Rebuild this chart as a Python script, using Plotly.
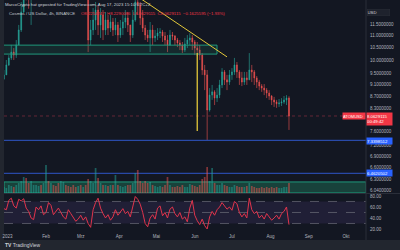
import numpy as np
import pandas as pd
import plotly.graph_objects as go

# ---------------- data ----------------
start_date = "2022-12-29"          # first candle, 2-day steps
first_open = 9.30
closes = [9.45, 9.82, 10.09, 10.32, 10.20, 10.61, 11.24, 12.05, 13.30, 13.10,
          12.70, 12.90, 13.40, 13.90, 14.20, 13.60, 13.80, 14.40, 14.30, 14.60,
          13.80, 13.40, 13.00, 13.90, 14.60, 14.30, 13.90, 13.50, 13.20, 13.10,
          13.40, 12.90, 13.05, 12.90, 10.81, 11.24, 11.68, 12.14, 11.46, 11.91,
          11.24, 11.68, 11.32, 11.59, 11.24, 11.46, 11.02, 11.32, 11.59, 11.77,
          11.46, 11.02, 11.68, 12.52, 12.38, 11.77, 11.32, 11.02, 10.90, 11.24,
          10.90, 10.98, 11.11, 11.15, 10.98, 10.81, 10.60, 11.02, 10.98, 10.81,
          10.69, 10.60, 10.40, 10.65, 10.81, 10.90, 10.73, 10.48, 10.40, 10.20,
          9.63, 9.45, 8.25, 8.74, 8.85, 8.64, 8.74, 9.09, 9.56, 9.27,
          9.19, 9.45, 9.56, 9.82, 9.56, 9.34, 9.19, 9.34, 9.27, 9.63,
          9.56, 9.34, 9.19, 9.05, 8.98, 8.91, 8.81, 8.71, 8.58, 8.51,
          8.45, 8.48, 8.51, 8.58, 8.64, 8.06]
highs = [9.63, 10.01, 10.20, 10.61, 10.48, 10.81, 11.46, 12.52, 13.90, 13.60,
         13.30, 13.40, 13.80, 14.30, 14.60, 14.30, 14.20, 14.80, 14.80, 15.00,
         14.70, 13.90, 13.50, 14.10, 15.00, 14.90, 14.50, 14.10, 13.70, 13.50,
         13.70, 13.40, 13.20, 13.30, 13.00, 11.68, 12.23, 12.52, 12.38, 12.23,
         12.14, 12.05, 11.91, 11.91, 11.77, 11.77, 11.59, 11.68, 11.91, 12.14,
         12.05, 11.46, 12.14, 13.22, 13.01, 12.52, 12.14, 11.46, 11.24, 11.59,
         11.46, 11.24, 11.32, 11.32, 11.24, 11.15, 11.02, 11.24, 11.15, 11.02,
         10.90, 10.81, 10.73, 10.90, 11.02, 11.10, 11.02, 10.81, 10.73, 10.60,
         10.28, 9.82, 9.63, 8.98, 9.09, 8.91, 8.98, 9.27, 9.70, 9.63,
         9.45, 9.63, 9.70, 10.09, 9.93, 9.63, 9.56, 9.56, 9.56, 10.28,
         9.82, 9.63, 9.41, 9.27, 9.12, 9.12, 8.98, 8.91, 8.74, 8.68,
         8.58, 8.61, 8.64, 8.71, 8.74, 8.70]
lows = [9.27, 9.45, 9.78, 10.01, 10.01, 10.09, 10.61, 11.15, 12.00, 12.60,
        12.20, 11.46, 12.80, 13.20, 13.70, 13.30, 13.30, 13.80, 14.00, 14.10,
        13.50, 13.10, 12.80, 12.90, 13.90, 14.00, 13.60, 13.20, 12.90, 12.80,
        12.90, 12.70, 12.80, 12.70, 10.32, 10.60, 11.02, 11.24, 11.02, 10.90,
        10.81, 11.02, 11.02, 11.15, 10.98, 11.02, 10.73, 10.90, 11.02, 11.32,
        11.15, 10.73, 10.90, 11.60, 11.91, 11.46, 11.15, 10.81, 10.73, 10.32,
        10.60, 10.73, 10.81, 10.90, 10.73, 10.60, 10.32, 10.60, 10.81, 10.60,
        10.52, 10.40, 10.28, 10.32, 10.48, 10.60, 10.40, 10.20, 10.16, 10.01,
        9.45, 8.91, 7.35, 8.20, 8.58, 8.41, 8.51, 8.64, 8.98, 9.09,
        8.91, 9.09, 9.27, 9.45, 9.34, 9.09, 9.05, 9.09, 9.09, 9.27,
        9.19, 9.09, 8.98, 8.91, 8.85, 8.74, 8.64, 8.58, 8.41, 8.35,
        8.32, 8.35, 8.38, 8.45, 8.41, 7.64]
volume_m = [3, 2.5, 4, 3.5, 3, 4, 5, 6, 8, 7.5,
            5, 6, 4, 4, 3.5, 4, 5, 14, 6, 5,
            4, 3.5, 5, 6, 5.5, 4, 3.5, 3, 4, 3,
            3.5, 4, 3, 4, 7, 6, 5, 12.5, 7.5, 5,
            4, 4, 3.5, 4, 4, 9, 4, 3.5, 3, 3.5,
            4, 4, 5, 10, 11.5, 6, 5, 6, 5, 5.5,
            4, 3.5, 3, 3.5, 3, 4, 8, 4, 3, 3,
            3.5, 3, 4, 3, 3, 4.5, 4, 3.5, 3, 4,
            7, 8, 13, 6, 12.5, 5, 4, 4, 5, 4,
            3.5, 3, 3, 4, 3.5, 3, 3, 3, 3.5, 5,
            3.5, 3, 2.5, 2.5, 3, 2.5, 3, 2.5, 3, 2.5,
            3, 2.5, 2.5, 3, 3, 5]
rsi = [57, 55, 72, 76, 62, 58, 74, 71, 75, 58,
       52, 40, 37, 60, 55, 62, 46, 50, 68, 63,
       46, 52, 58, 50, 42, 38, 55, 48, 40, 34,
       38, 45, 36, 42, 30, 23, 55, 68, 76, 58,
       48, 40, 46, 36, 42, 55, 45, 50, 57, 48,
       52, 42, 60, 79, 74, 65, 50, 30, 24, 40,
       46, 38, 58, 62, 44, 50, 40, 56, 60, 48,
       42, 50, 38, 42, 33, 58, 72, 45, 35, 28,
       38, 26, 20, 42, 52, 45, 55, 60, 68, 63,
       56, 60, 54, 70, 66, 50, 42, 48, 40, 76,
       55, 48, 52, 40, 45, 38, 48, 42, 36, 40,
       45, 38, 48, 52, 60, 28]

price_ticks = [11.5, 11.0, 10.5, 10.0, 9.5, 9.1, 8.7, 8.3, 7.6, 7.2, 6.9, 6.6, 6.3, 6.04]
price_tick_labels = ["11.5000000", "11.0000000", "10.5000000", "10.0000000", "9.5000000",
                     "9.1000000", "8.7000000", "8.3000000", "7.6000000",
                     "7.2000000", "6.9000000", "6.6000000", "6.3000000", "6.0400000"]
rsi_ticks = [80, 60, 40, 20]
rsi_tick_labels = ["80.00", "60.00", "40.00", "20.00"]
month_ticks = ["2023-01-01", "2023-02-01", "2023-03-01", "2023-04-01", "2023-05-01",
               "2023-06-01", "2023-07-01", "2023-08-01", "2023-09-01", "2023-10-01"]
month_labels = ["2023", "Feb", "Mrz", "Apr", "Mai", "Jun", "Jul", "Aug", "Sep", "Okt"]

last_price = 8.0629115
blue_levels = [7.3398512, 6.4620502]
zone_top = [10.24, 10.60]
zone_bottom = [5.99, 6.25]
trend_dates = ["2023-04-18", "2023-06-27"]
trend_prices = [12.70, 10.13]
vline_date = "2023-06-03"
vline_prices = [10.28, 7.61]

# ---------------- derived ----------------
dates = pd.date_range(start_date, periods=len(closes), freq="2D")
opens = [first_open] + closes[:-1]
UP, DOWN = "#26a69a", "#ef5350"
vol_colors = ["rgba(38,166,154,0.5)" if c >= o else "rgba(239,83,80,0.5)"
              for o, c in zip(opens, closes)]

# ---------------- geometry ----------------
W, H = 400, 250
ML, MR, MT, MB = 4, 34, 0, 18
PW, PH = W - ML - MR, H - MT - MB
def fx(px): return (px - ML) / PW
def fy(py): return (PH + MT - py) / PH

jan1 = pd.Timestamp("2023-01-01")
PX_PER_DAY, X_JAN1 = 1.2397, 7.57
def px_date(px): return jan1 + pd.Timedelta(days=(px - X_JAN1) / PX_PER_DAY)
x_lo, x_hi = px_date(ML), px_date(W - MR)

BG = "#131722"
FRAME = "#22262f"
TXT = "#b2b5be"
FONT = "Liberation Sans, Arial, sans-serif"
L = np.log10

fig = go.Figure()

def poly(xs, ys, fill, line, yaxis="y", width=1):
    fig.add_trace(go.Scatter(x=xs, y=ys, mode="lines", fill="toself", fillcolor=fill,
                             line=dict(color=line, width=width), xaxis="x", yaxis=yaxis,
                             hoverinfo="skip"))

# zones (drawn under the candles)
za, zb = px_date(3), px_date(217)
poly([za, zb, zb, za, za], [zone_top[0], zone_top[0], zone_top[1], zone_top[1], zone_top[0]],
     "rgba(38,166,120,0.13)", "#1f9a7c")
poly([x_lo, x_hi, x_hi, x_lo, x_lo],
     [zone_bottom[0], zone_bottom[0], zone_bottom[1], zone_bottom[1], zone_bottom[0]],
     "rgba(38,166,120,0.30)", "#1f9a7c")
# RSI band
poly([x_lo, x_hi, x_hi, x_lo, x_lo], [30, 30, 70, 70, 30],
     "rgba(126,87,194,0.13)", "rgba(0,0,0,0)", yaxis="y2", width=0)

# horizontal levels
for lv in blue_levels:
    fig.add_trace(go.Scatter(x=[x_lo, x_hi], y=[lv, lv], mode="lines",
                             line=dict(color="#2f56c8", width=1), hoverinfo="skip"))
fig.add_trace(go.Scatter(x=[x_lo, x_hi], y=[last_price, last_price], mode="lines",
                         line=dict(color="rgba(200,60,80,0.45)", width=1, dash="dot"),
                         hoverinfo="skip"))

fig.add_trace(go.Candlestick(
    x=dates, open=opens, high=highs, low=lows, close=closes,
    increasing=dict(line=dict(color=UP, width=0.6), fillcolor=UP),
    decreasing=dict(line=dict(color=DOWN, width=0.6), fillcolor=DOWN),
    whiskerwidth=0, xaxis="x", yaxis="y", hoverinfo="skip"))

# yellow drawings
fig.add_trace(go.Scatter(x=trend_dates, y=trend_prices, mode="lines",
                         line=dict(color="#e2c73a", width=1), hoverinfo="skip"))
fig.add_trace(go.Scatter(x=[vline_date, vline_date], y=vline_prices, mode="lines",
                         line=dict(color="#e2c73a", width=1.3), hoverinfo="skip"))

# RSI levels and line
for lv in (70, 50, 30):
    fig.add_trace(go.Scatter(x=[x_lo, x_hi], y=[lv, lv], mode="lines", yaxis="y2",
                             line=dict(color="rgba(120,123,134,0.6)", width=1, dash="dash"),
                             hoverinfo="skip"))
fig.add_trace(go.Scatter(x=dates, y=rsi, mode="lines", line=dict(color="#e0344c", width=1),
                         xaxis="x", yaxis="y2", hoverinfo="skip"))

# volume (own overlapping axis at the bottom of the price pane)
fig.add_trace(go.Bar(x=dates, y=volume_m, marker=dict(color=vol_colors, line=dict(width=0)),
                     xaxis="x", yaxis="y3", hoverinfo="skip"))

shapes = []
shapes.append(dict(type="rect", xref="paper", yref="paper", x0=fx(0), x1=0, y0=fy(H), y1=fy(0),
                   fillcolor=FRAME, line=dict(width=0), layer="below"))
shapes.append(dict(type="rect", xref="paper", yref="paper", x0=fx(0), x1=fx(W), y0=fy(H), y1=fy(240),
                   fillcolor=FRAME, line=dict(width=0), layer="below"))
shapes.append(dict(type="line", xref="paper", yref="paper", x0=0, x1=fx(W), y0=fy(193.5), y1=fy(193.5),
                   line=dict(color="#2a2e39", width=1)))
shapes.append(dict(type="line", xref="paper", yref="paper", x0=1, x1=1, y0=fy(240), y1=1,
                   line=dict(color="#2a2e39", width=1)))

ann = []
def text(px, py, s, size=4.3, color=TXT, **kw):
    d = dict(xref="paper", yref="paper", x=fx(px), y=fy(py), text=s, showarrow=False,
             xanchor="left", yanchor="middle", font=dict(family=FONT, size=size, color=color))
    d.update(kw)
    ann.append(d)

text(3, 4, "MarcoCrypto hat geposted für TradingView.com, Aug 17, 2023 15:10 UTC+2", color="#d1d4dc")
text(7, 14, "Cosmos / US Dollar, 4h, BINANCE", color="#c4c7cf")
text(79, 14, "O8.2254247  H8.2290086  L8.0629115  C8.0629115  −0.1625595 (−1.93%)", color="#f23645")
text(367, 12.5, "USD", size=4.3, color="#d1d4dc", bgcolor="#1e222d", bordercolor="#2a2e39",
     borderwidth=0.5, width=22, height=6, align="left", borderpad=0)
text(366, 118.5, "8.0629115<br>00:49:42", size=4.3, color="#ffffff", bgcolor="#f23645",
     width=25, height=12, align="left", borderpad=0)
text(342, 116, "ATOMUSD", size=4.0, color="#ffffff", bgcolor="#f23645",
     width=22, height=6, align="left", borderpad=0)
text(366, 140.5, "7.3398512", size=4.3, color="#ffffff", bgcolor="#2962ff",
     width=25, height=6, align="left", borderpad=0)
text(366, 173, "6.4620502", size=4.3, color="#ffffff", bgcolor="#2962ff",
     width=25, height=6, align="left", borderpad=0)
text(3, 245.5, "<b>TV</b> TradingView", size=5, color="#d1d4dc")

axis_font = dict(family=FONT, size=4.5, color=TXT)
fig.update_layout(
    width=W, height=H, margin=dict(l=ML, r=MR, t=MT, b=MB),
    paper_bgcolor=BG, plot_bgcolor="rgba(0,0,0,0)", showlegend=False,
    bargap=0.3, boxgap=0.5,
    xaxis=dict(type="date", range=[x_lo, x_hi], anchor="y2",
               tickvals=month_ticks, ticktext=month_labels, tickfont=axis_font,
               showgrid=False, zeroline=False, showline=False, ticks="",
               rangeslider=dict(visible=False)),
    yaxis=dict(type="log", domain=[fy(193), 1], range=[L(5.989), L(12.618)], side="right",
               anchor="x", tickvals=price_ticks, ticktext=price_tick_labels, tickfont=axis_font,
               showgrid=False, zeroline=False, showline=False, ticks="", ticklabelstandoff=3),
    yaxis2=dict(domain=[0, fy(194)], range=[14.5, 83.6], side="right", anchor="x",
                tickvals=rsi_ticks, ticktext=rsi_tick_labels, tickfont=axis_font,
                showgrid=False, zeroline=False, showline=False, ticks="", ticklabelstandoff=3),
    yaxis3=dict(domain=[fy(193), fy(133)], range=[0, 30], anchor="x", visible=False),
    shapes=shapes, annotations=ann,
)
fig.write_html("out.html")
